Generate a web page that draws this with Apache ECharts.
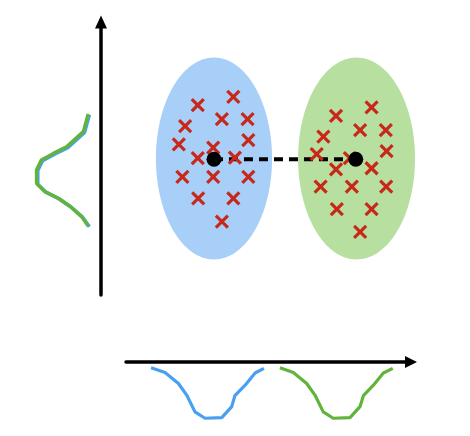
<!DOCTYPE html>
<html>
<head>
<meta charset="utf-8">
<script src="https://cdn.jsdelivr.net/npm/echarts@6/dist/echarts.min.js"></script>
<style>html,body{margin:0;padding:0;background:#fff}#c{width:470px;height:436px}</style>
</head>
<body>
<div id="c"></div>
<script>
// Cluster ellipses: [centerX, centerY, radiusX, radiusY]
const blueEllipse = [2.86, 3.50, 1.47, 2.59];
const greenEllipse = [6.47, 3.50, 1.48, 2.59];
// Centroids
const blueCentroid = [2.86, 3.48];
const greenCentroid = [6.45, 3.48];
// Sample points (crosses)
const bluePoints = [
  [3.35, 5.08], [2.45, 4.87], [3.06, 4.51], [3.71, 4.51], [2.13, 4.33],
  [3.73, 3.97], [1.97, 3.86], [2.84, 3.78], [2.45, 3.51], [3.39, 3.52],
  [2.06, 3.03], [2.84, 3.03], [3.73, 3.03], [2.46, 2.48], [3.35, 2.48],
  [3.06, 1.88]
];
const greenPoints = [
  [6.85, 4.81], [5.95, 4.59], [6.56, 4.23], [7.21, 4.23], [5.63, 4.06],
  [7.23, 3.69], [5.46, 3.61], [6.30, 3.51], [5.95, 3.22], [6.85, 3.25],
  [5.56, 2.78], [6.35, 2.78], [7.22, 2.78], [5.97, 2.20], [6.85, 2.20],
  [6.56, 1.62]
];
// Left projection curves: [depth, y]
const leftBlue = [
  [0.01, 4.62], [0.09, 4.17], [0.37, 3.78], [0.59, 3.61], [0.79, 3.44], [0.87, 3.19],
  [0.87, 2.84], [0.73, 2.63], [0.51, 2.46], [0.31, 2.25], [0.12, 1.99], [0.01, 1.75]
];
const leftGreen = [
  [0.03, 4.64], [0.11, 4.19], [0.39, 3.80], [0.61, 3.63], [0.81, 3.46], [0.89, 3.21],
  [0.89, 2.86], [0.75, 2.65], [0.53, 2.48], [0.33, 2.27], [0.14, 2.01], [0.03, 1.77]
];
// Bottom projection curves: [x, depth]
const bottomBlue = [
  [0.88, 0.10], [1.37, 0.18], [1.84, 0.37], [2.13, 0.57], [2.42, 0.86], [2.77, 0.97],
  [3.36, 0.96], [3.71, 0.77], [3.82, 0.58], [4.18, 0.40], [4.53, 0.19], [4.84, 0.11]
];
const bottomGreen = [
  [5.40, 0.10], [5.87, 0.18], [6.34, 0.37], [6.63, 0.57], [6.92, 0.86], [7.27, 0.97],
  [7.86, 0.96], [8.21, 0.77], [8.33, 0.58], [8.68, 0.40], [9.03, 0.19], [9.36, 0.11]
];

const RED = '#c8281a';
const BLUE_FILL = '#a8cff8';
const GREEN_FILL = '#b6dfa0';
const BLUE_LINE = '#4a9ff2';
const GREEN_LINE = '#60b43c';

function ellipseItem(color) {
  return function (params, api) {
    const c = api.coord([api.value(0), api.value(1)]);
    const s = api.size([api.value(2), api.value(3)]);
    return {
      type: 'ellipse',
      shape: { cx: c[0], cy: c[1], rx: s[0], ry: s[1] },
      style: { fill: color }
    };
  };
}
function crossItem(params, api) {
  const c = api.coord([api.value(0), api.value(1)]);
  const h = 6;
  const st = { stroke: RED, lineWidth: 3.2 };
  return {
    type: 'group',
    children: [
      { type: 'line', shape: { x1: c[0] - h, y1: c[1] - h, x2: c[0] + h, y2: c[1] + h }, style: st },
      { type: 'line', shape: { x1: c[0] + h, y1: c[1] - h, x2: c[0] - h, y2: c[1] + h }, style: st }
    ]
  };
}

const chart = echarts.init(document.getElementById('c'));
chart.setOption({
  animation: false,
  backgroundColor: '#fff',
  grid: [
    { left: 101, top: 22, width: 316, height: 273 },
    { left: 126, top: 362, width: 285, height: 58 },
    { left: 30, top: 22, width: 60, height: 273 }
  ],
  xAxis: [
    { gridIndex: 0, type: 'value', min: 0, max: 8, show: false },
    {
      gridIndex: 1, type: 'value', min: 0, max: 10, position: 'top',
      axisLine: { show: true, onZero: false, symbol: ['none', 'triangle'], symbolSize: [12, 12],
        lineStyle: { color: '#000', width: 3.5 } },
      axisTick: { show: false }, axisLabel: { show: false }, splitLine: { show: false }
    },
    { gridIndex: 2, type: 'value', min: 0, max: 1, inverse: true, show: false }
  ],
  yAxis: [
    {
      gridIndex: 0, type: 'value', min: 0, max: 7,
      axisLine: { show: true, onZero: false, symbol: ['none', 'triangle'], symbolSize: [12, 13],
        lineStyle: { color: '#000', width: 3.5 } },
      axisTick: { show: false }, axisLabel: { show: false }, splitLine: { show: false }
    },
    { gridIndex: 1, type: 'value', min: 0, max: 1, inverse: true, show: false },
    { gridIndex: 2, type: 'value', min: 0, max: 7, show: false }
  ],
  series: [
    { type: 'custom', xAxisIndex: 0, yAxisIndex: 0, renderItem: ellipseItem(BLUE_FILL), data: [blueEllipse], z: 1 },
    { type: 'custom', xAxisIndex: 0, yAxisIndex: 0, renderItem: ellipseItem(GREEN_FILL), data: [greenEllipse], z: 1 },
    {
      type: 'line', xAxisIndex: 0, yAxisIndex: 0, data: [blueCentroid, greenCentroid],
      symbol: 'none', lineStyle: { color: '#000', width: 4, type: [9, 6] }, z: 2
    },
    { type: 'custom', xAxisIndex: 0, yAxisIndex: 0, renderItem: crossItem, data: bluePoints, z: 3 },
    { type: 'custom', xAxisIndex: 0, yAxisIndex: 0, renderItem: crossItem, data: greenPoints, z: 3 },
    {
      type: 'scatter', xAxisIndex: 0, yAxisIndex: 0, data: [blueCentroid, greenCentroid],
      symbolSize: 15, itemStyle: { color: '#000', opacity: 1 }, z: 4
    },
    {
      type: 'line', xAxisIndex: 1, yAxisIndex: 1, data: bottomBlue, symbol: 'none',
      lineStyle: { color: BLUE_LINE, width: 3.2 }
    },
    {
      type: 'line', xAxisIndex: 1, yAxisIndex: 1, data: bottomGreen, symbol: 'none',
      lineStyle: { color: GREEN_LINE, width: 3.2 }
    },
    {
      type: 'line', xAxisIndex: 2, yAxisIndex: 2, data: leftBlue, symbol: 'none',
      lineStyle: { color: BLUE_LINE, width: 3.5 }, z: 2
    },
    {
      type: 'line', xAxisIndex: 2, yAxisIndex: 2, data: leftGreen, symbol: 'none',
      lineStyle: { color: GREEN_LINE, width: 3.5 }, z: 3
    }
  ]
});
</script>
</body>
</html>
